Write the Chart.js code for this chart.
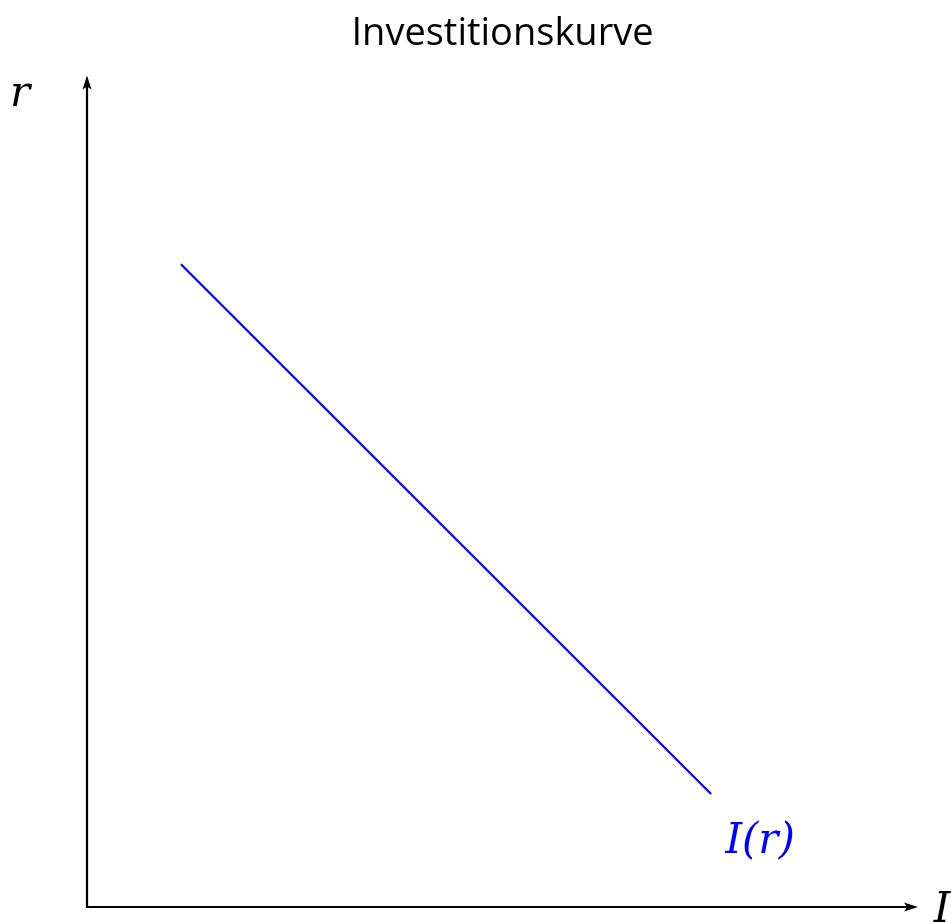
<!DOCTYPE html>
<html>
<head>
<meta charset="utf-8">
<script src="https://cdn.jsdelivr.net/npm/chart.js@4.4.0/dist/chart.umd.min.js"></script>
<style>
  html, body { margin: 0; padding: 0; background: #fff; }
  #wrap { width: 951px; height: 922px; }
</style>
</head>
<body>
<div id="wrap"><canvas id="chart"></canvas></div>
<script>
// Investitionskurve: I(r) falls linearly with r
const investment = [1.13, 7.51];   // I (x axis)
const rate = [7.73, 1.36];         // r (y axis)
const curveLabel = 'I(r)';
const labelPos = { x: 8.1, y: 0.78 };
const axisLabels = { x: 'I', y: 'r' };

const serif = "'DejaVu Serif', 'Liberation Serif', serif";

// draws the two axes with arrow heads plus the math-style labels
const axesPlugin = {
  id: 'axesArrows',
  afterDatasetsDraw(chart) {
    const { ctx, chartArea: a, scales } = chart;
    ctx.save();
    ctx.strokeStyle = '#000';
    ctx.fillStyle = '#000';
    ctx.lineWidth = 2.2;
    ctx.beginPath();
    ctx.moveTo(a.left, a.top + 8);
    ctx.lineTo(a.left, a.bottom);
    ctx.lineTo(a.right - 8, a.bottom);
    ctx.stroke();

    // arrow heads
    ctx.beginPath();
    ctx.moveTo(a.left, a.top);
    ctx.lineTo(a.left - 4.5, a.top + 14);
    ctx.lineTo(a.left, a.top + 11);
    ctx.lineTo(a.left + 4.5, a.top + 14);
    ctx.closePath();
    ctx.fill();
    ctx.beginPath();
    ctx.moveTo(a.right, a.bottom);
    ctx.lineTo(a.right - 14, a.bottom - 4.5);
    ctx.lineTo(a.right - 11, a.bottom);
    ctx.lineTo(a.right - 14, a.bottom + 4.5);
    ctx.closePath();
    ctx.fill();

    ctx.font = 'italic 42px ' + serif;
    ctx.textAlign = 'center';
    ctx.textBaseline = 'alphabetic';
    ctx.fillText(axisLabels.y, a.left - 67, a.top + 30);
    ctx.fillText(axisLabels.x, a.right + 24, a.bottom + 15);

    ctx.fillStyle = '#0000ff';
    ctx.font = 'italic 42px ' + serif;
    ctx.textBaseline = 'middle';
    ctx.fillText(curveLabel, scales.x.getPixelForValue(labelPos.x), scales.y.getPixelForValue(labelPos.y));
    ctx.restore();
  }
};

new Chart(document.getElementById('chart'), {
  type: 'line',
  data: {
    datasets: [{
      label: curveLabel,
      data: investment.map((v, i) => ({ x: v, y: rate[i] })),
      borderColor: '#0000ff',
      borderWidth: 2.2,
      pointRadius: 0,
      tension: 0,
      fill: false,
    }],
  },
  options: {
    responsive: true,
    maintainAspectRatio: false,
    animation: false,
    layout: {
      padding: { left: 87, right: 33, top: 0, bottom: 15 },
    },
    plugins: {
      legend: { display: false },
      tooltip: { enabled: false },
      title: {
        display: true,
        text: 'Investitionskurve',
        color: '#000',
        font: { family: "'Open Sans', sans-serif", size: 38, weight: 'normal' },
        padding: { top: 11, bottom: 19 },
      },
    },
    scales: {
      x: { type: 'linear', min: 0, max: 10, display: false },
      y: { type: 'linear', min: 0, max: 10, display: false },
    },
  },
  plugins: [axesPlugin],
});
</script>
</body>
</html>
